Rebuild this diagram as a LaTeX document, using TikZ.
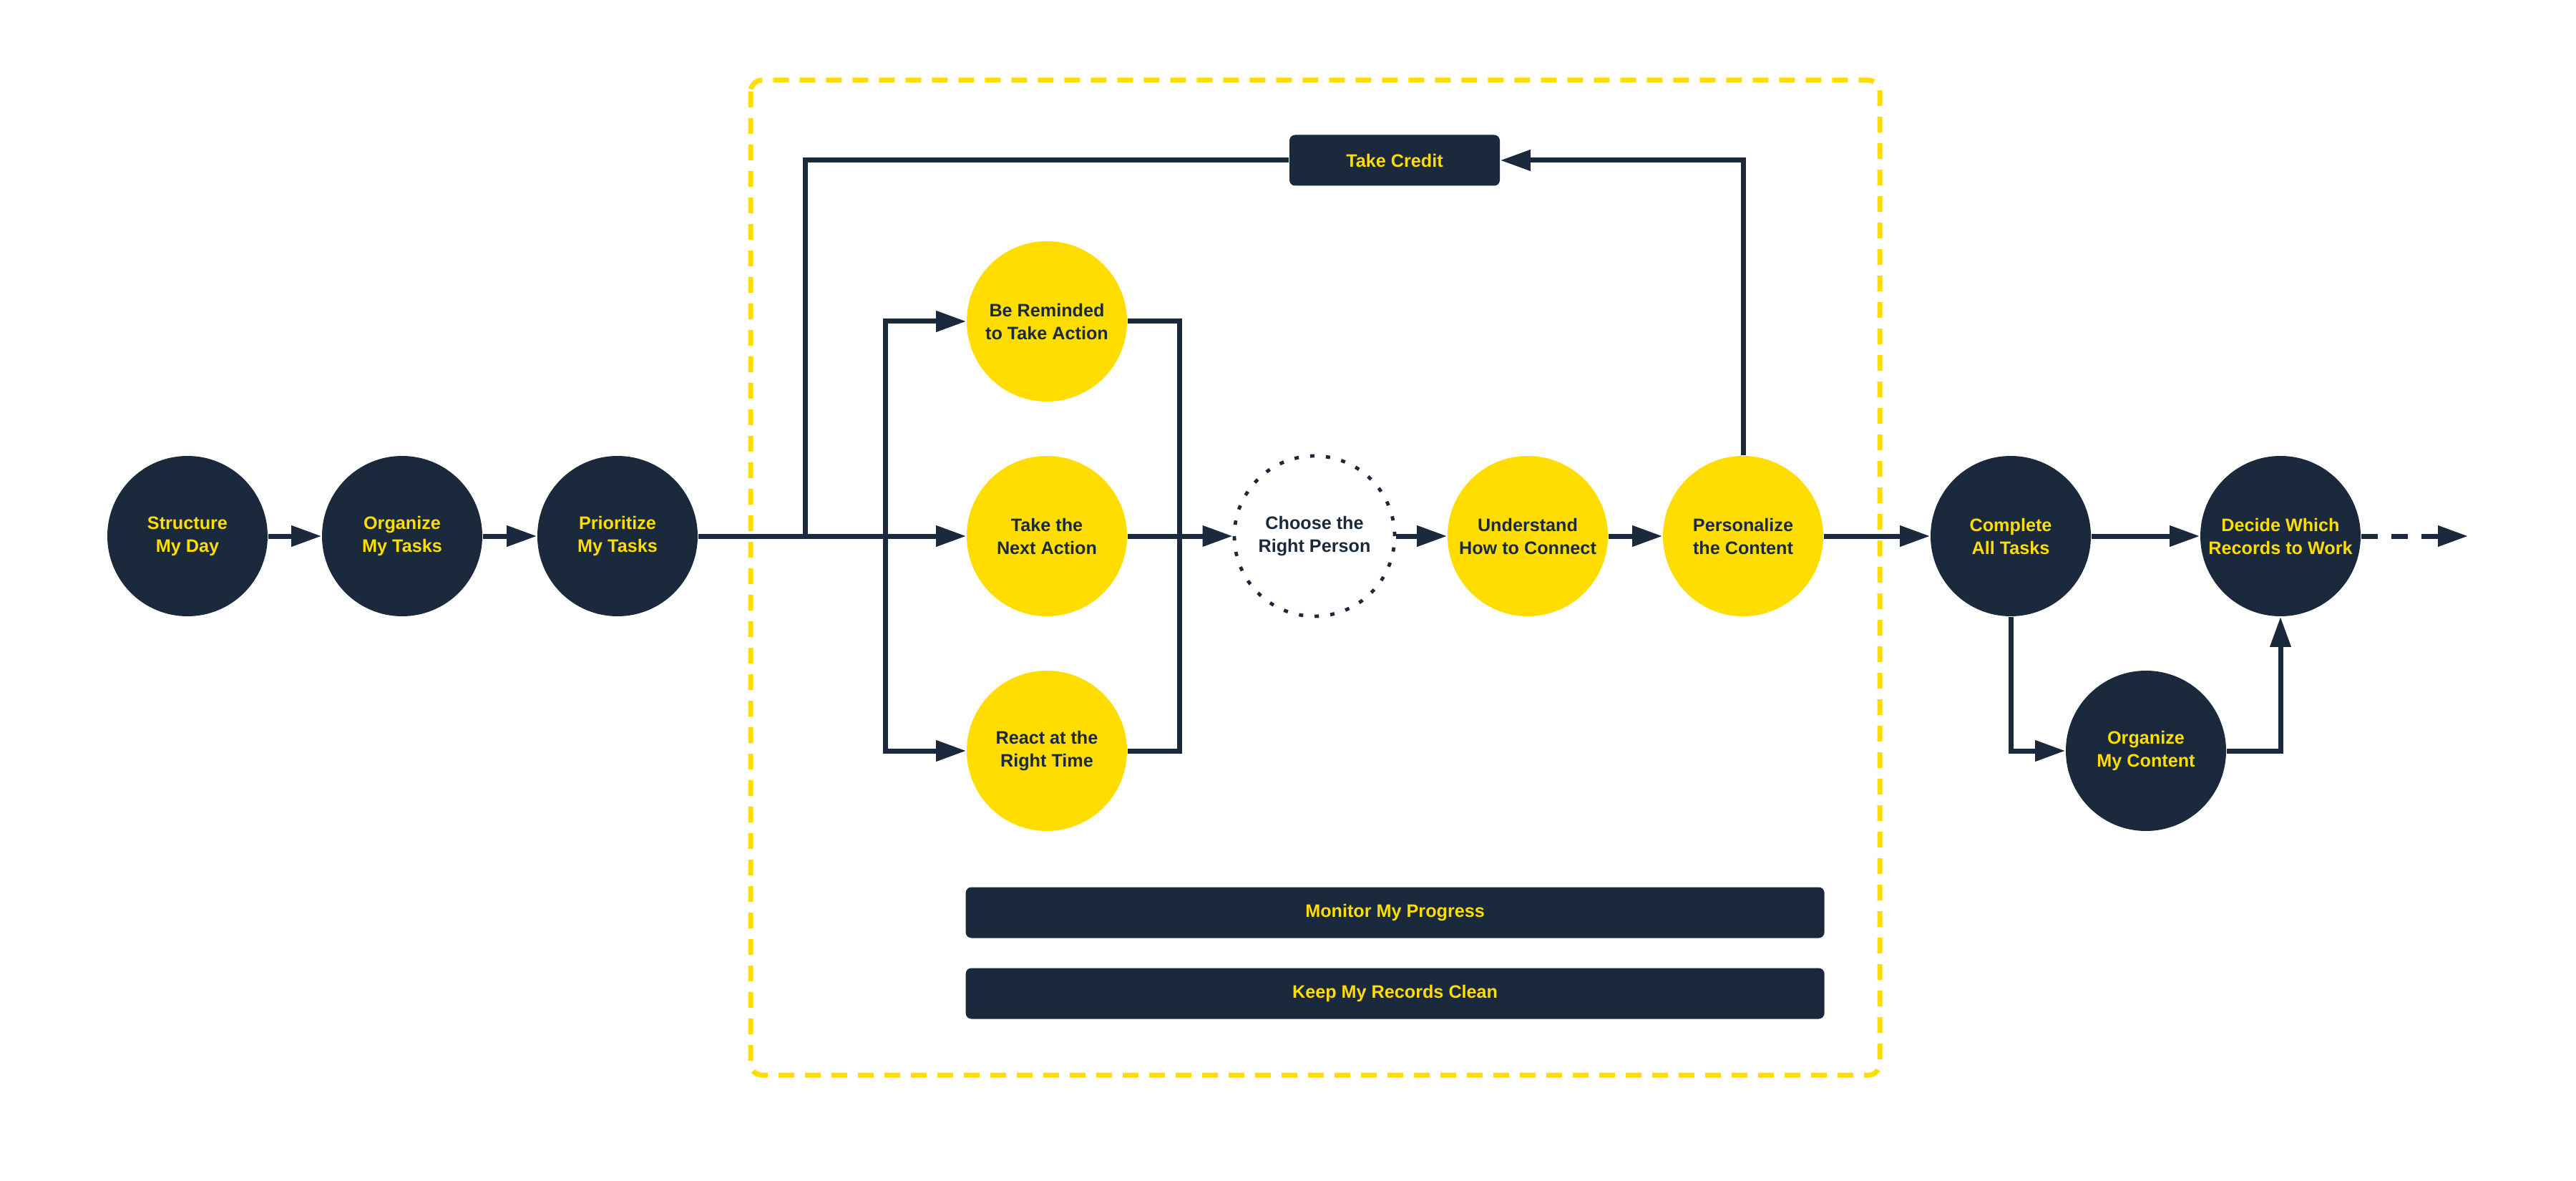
\documentclass[tikz,border=0pt]{standalone}
\usepackage{fontspec}
\setmainfont{Liberation Sans}
\usepackage{tikz}
\usetikzlibrary{shapes, arrows.meta}
\usetikzlibrary{positioning}
\definecolor{navy}{RGB}{26, 41, 59}
\definecolor{gold}{RGB}{255, 221, 0}
\tikzstyle{ball} = [circle, minimum size = 56, inner sep = 0, text centered,
  align = center, font = \bfseries\fontsize{6.3}{8}\selectfont]
\tikzstyle{navyball} = [ball, fill = navy, text = gold]
\tikzstyle{goldball} = [ball, fill = gold, text = navy]
\tikzstyle{openball} = [
  ball, draw = navy, text = navy,
  line width = 1.2pt, dash pattern = on 1.5pt off 4pt
]
\tikzstyle{slab} = [rectangle, rounded corners = 2, minimum height = 17.75,
  fill = navy, text = gold, text centered, font = \bfseries\fontsize{6.3}{8}\selectfont]
\tikzstyle{wire} = [draw = navy, line width = 1.75pt]
\tikzstyle{flow} = [wire, -{Triangle[length = 10.5pt, width = 7pt]}]
\tikzstyle{zone} = [draw = gold, line width = 1.75pt, rounded corners = 4,
  dash pattern = on 5.5pt off 3.75pt]

\begin{document}
\begin{tikzpicture}[node distance = 0, x = 1pt, y = 1pt]
      \useasboundingbox (0, 187.25) rectangle (900, -225.25);
      \draw [zone] (262.25, 159.25) rectangle (656.75, -188.25);

      \node [navyball] (day) at (65.5, 0) {Structure\\My Day};
      \node [navyball, right of = day, xshift = 75] (tasks) {Organize\\My Tasks};
      \node [navyball, right of = tasks, xshift = 75.25] (prio) {Prioritize\\My Tasks};
      \node [goldball, right of = prio, xshift = 150] (next) {Take the\\Next Action};
      \node [goldball, above of = next, yshift = 75] (remind) {Be Reminded\\to Take Action};
      \node [goldball, below of = next, yshift = -75] (react) {React at the\\Right Time};
      \node [openball, right of = next, xshift = 93.5] (choose) {Choose the\\Right Person};
      \node [goldball, right of = choose, xshift = 74.5] (connect) {Understand\\How to Connect};
      \node [goldball, right of = connect, xshift = 75.25] (content) {Personalize\\the Content};
      \node [navyball, right of = content, xshift = 93.5] (complete) {Complete\\All Tasks};
      \node [navyball, right of = complete, xshift = 94.25] (decide) {Decide Which\\Records to Work};
      \node [navyball, below of = complete, xshift = 47.25, yshift = -75] (mycontent) {Organize\\My Content};

      \node [slab, minimum width = 73.5] (credit) at (487.25, 131.25) {Take Credit};
      \node [slab, minimum width = 300] (monitor) at (487.4, -131.5) {Monitor My Progress};
      \node [slab, minimum width = 300, below of = monitor, yshift = -28.25] (clean) {Keep My Records Clean};

      \coordinate [right of = prio, xshift = 65.5] (loop);
      \coordinate [right of = prio, xshift = 93.5] (split);
      \coordinate [right of = next, xshift = 46.25] (join);
      \coordinate [right of = decide, xshift = 65.5] (more);

      \draw [flow] (day) -- (tasks);
      \draw [flow] (tasks) -- (prio);
      \draw [flow] (prio) -- (next);
      \draw [flow] (split) |- (remind);
      \draw [flow] (split) |- (react);
      \draw [wire] (remind) -| (join) |- (react);
      \draw [flow] (next) -- (choose);
      \draw [flow] (choose) -- (connect);
      \draw [flow] (connect) -- (content);
      \draw [flow] (content) |- (credit);
      \draw [wire] (credit) -| (loop);
      \draw [flow] (content) -- (complete);
      \draw [flow] (complete) -- (decide);
      \draw [flow] (complete) |- (mycontent);
      \draw [flow] (mycontent) -| (decide);
      \draw [flow, dash pattern = on 5.75pt off 4.75pt] (decide) -- (more);
    \end{tikzpicture}
\end{document}
